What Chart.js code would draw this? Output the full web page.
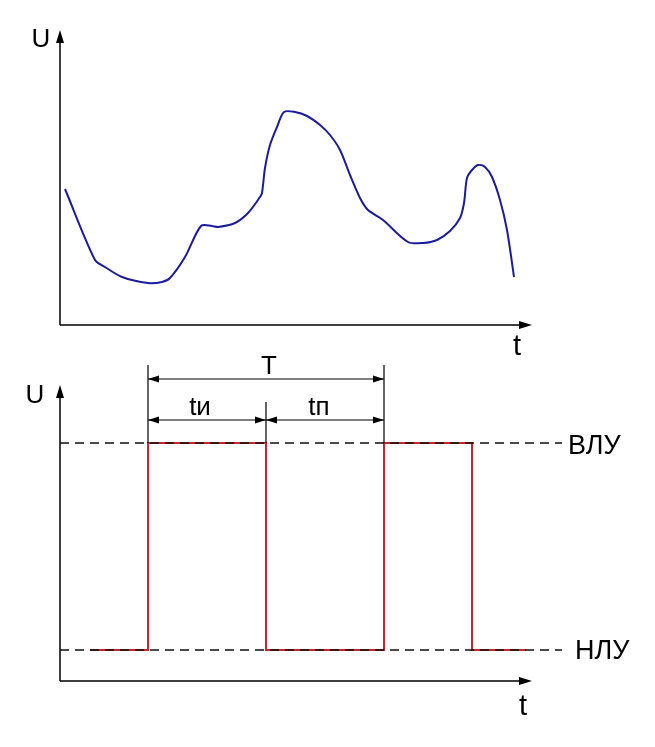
<!DOCTYPE html>
<html lang="ru">
<head>
<meta charset="UTF-8">
<title>Входной сигнал и импульсы</title>
<script src="https://cdn.jsdelivr.net/npm/chart.js"></script>
<style>
    body { margin: 0; background: #fff; }
    .box { position: absolute; left: 0; width: 655px; }
    #top { top: 0; height: 375px; }
    #bottom { top: 350px; height: 397px; }
</style>
</head>
<body>
<div class="box" id="top"><canvas id="signalChart"></canvas></div>
<div class="box" id="bottom"><canvas id="pulseChart"></canvas></div>
<script>
    // верхний график: входной сигнал
    const curveT = [5, 35, 45, 62, 88, 102, 110, 125, 141, 152, 158, 175, 188, 200, 202, 205, 210, 217, 224, 235,
                    247, 260, 270, 280, 290, 300, 308, 323, 348, 363, 377, 390, 400, 404, 407, 412, 418, 425, 432, 440, 447, 454];
    const curveU = [136, 65, 58, 48, 42, 43, 47, 68, 99, 99, 98, 102, 112, 128, 132, 157, 180, 198, 213, 213,
                    209, 200, 190, 175, 150, 127, 115, 105, 83, 82, 85, 94, 107, 122, 147, 155, 160, 158, 148, 125, 95, 48];

    // нижний график: прямоугольные импульсы
    const pulseT = [30, 88, 88, 206, 206, 324, 324, 412, 412, 466];
    const pulseU = [31, 31, 238, 238, 31, 31, 238, 238, 31, 31];
    const levelHigh = 238;  // ВЛУ
    const levelLow = 31;    // НЛУ
    const levelEnd = 502;

    const tMax = 472;
    const font = 'Arial, "Liberation Sans", sans-serif';

    const axesPlugin = {
        id: 'axes',
        afterDraw(chart, args, o) {
            const { ctx, chartArea: a } = chart;
            ctx.save();
            ctx.strokeStyle = '#000';
            ctx.fillStyle = '#000';
            ctx.lineWidth = 1.5;
            ctx.beginPath();
            ctx.moveTo(a.left, a.bottom);
            ctx.lineTo(a.left, a.top + 10);
            ctx.moveTo(a.left, a.bottom);
            ctx.lineTo(a.right - 10, a.bottom);
            ctx.stroke();
            ctx.beginPath();
            ctx.moveTo(a.left, a.top);
            ctx.lineTo(a.left - 4, a.top + 13);
            ctx.lineTo(a.left + 4, a.top + 13);
            ctx.closePath();
            ctx.moveTo(a.right, a.bottom);
            ctx.lineTo(a.right - 13, a.bottom - 4);
            ctx.lineTo(a.right - 13, a.bottom + 4);
            ctx.closePath();
            ctx.fill();
            ctx.textAlign = 'center';
            ctx.textBaseline = 'middle';
            ctx.font = '26px ' + font;
            ctx.fillText('U', a.left + o.uX, a.top + o.uY);
            ctx.font = '29px ' + font;
            ctx.fillText('t', a.right + o.tX, a.bottom + o.tY);
            ctx.restore();
        }
    };

    function arrowHead(ctx, x, y, dir) {
        ctx.beginPath();
        ctx.moveTo(x, y);
        ctx.lineTo(x - dir * 11, y - 3.5);
        ctx.lineTo(x - dir * 11, y + 3.5);
        ctx.closePath();
        ctx.fill();
    }

    function dimLine(ctx, x1, x2, y) {
        ctx.beginPath();
        ctx.moveTo(x1, y);
        ctx.lineTo(x2, y);
        ctx.stroke();
        arrowHead(ctx, x1, y, -1);
        arrowHead(ctx, x2, y, 1);
    }

    const dimsPlugin = {
        id: 'dims',
        afterDraw(chart) {
            const { ctx, scales: { x, y } } = chart;
            const x1 = x.getPixelForValue(pulseT[1]);
            const x2 = x.getPixelForValue(pulseT[3]);
            const x3 = x.getPixelForValue(pulseT[5]);
            const yHigh = y.getPixelForValue(levelHigh);
            const yLow = y.getPixelForValue(levelLow);
            const xEnd = x.getPixelForValue(levelEnd);
            const rowT = yHigh - 64;
            const rowI = yHigh - 23;

            ctx.save();
            ctx.strokeStyle = '#000';
            ctx.fillStyle = '#000';
            ctx.lineWidth = 1.2;
            ctx.beginPath();
            ctx.moveTo(x1, yHigh); ctx.lineTo(x1, yHigh - 78);
            ctx.moveTo(x3, yHigh); ctx.lineTo(x3, yHigh - 78);
            ctx.moveTo(x2, yHigh); ctx.lineTo(x2, yHigh - 41);
            ctx.stroke();
            dimLine(ctx, x1, x3, rowT);
            dimLine(ctx, x1, x2, rowI);
            dimLine(ctx, x2, x3, rowI);

            ctx.textAlign = 'center';
            ctx.textBaseline = 'middle';
            ctx.font = '26px ' + font;
            ctx.fillText('T', (x1 + x3) / 2 + 3, rowT - 12);
            ctx.fillText('tи', (x1 + x2) / 2 - 7, rowI - 12);
            ctx.fillText('tп', (x2 + x3) / 2 - 6, rowI - 12);

            ctx.textAlign = 'left';
            ctx.font = '27px ' + font;
            ctx.fillText('ВЛУ', xEnd + 6, yHigh + 4);
            ctx.fillText('НЛУ', xEnd + 13, yLow + 2);
            ctx.restore();
        }
    };

    function baseOptions(padding, uMax, axes) {
        return {
            responsive: true,
            maintainAspectRatio: false,
            animation: false,
            layout: { padding: padding },
            plugins: { legend: { display: false }, tooltip: { enabled: false }, axes: axes },
            elements: { point: { radius: 0 } },
            scales: {
                x: { type: 'linear', min: 0, max: tMax, display: false },
                y: { min: 0, max: uMax, display: false }
            }
        };
    }

    new Chart(document.getElementById('signalChart'), {
        type: 'line',
        data: {
            datasets: [{
                data: curveT.map((t, i) => ({ x: t, y: curveU[i] })),
                borderColor: '#1c1c9e',
                borderWidth: 2,
                tension: 0.3,
                fill: false
            }]
        },
        options: baseOptions({ left: 60, top: 30, right: 123, bottom: 50 }, 295,
            { uX: -19, uY: 10, tX: -15, tY: 22 }),
        plugins: [axesPlugin]
    });

    new Chart(document.getElementById('pulseChart'), {
        type: 'line',
        data: {
            datasets: [
                {
                    data: [{ x: 0, y: levelHigh }, { x: levelEnd, y: levelHigh }],
                    borderColor: '#111',
                    borderWidth: 1.4,
                    borderDash: [9, 6],
                    clip: false
                },
                {
                    data: [{ x: 0, y: levelLow }, { x: levelEnd, y: levelLow }],
                    borderColor: '#111',
                    borderWidth: 1.4,
                    borderDash: [9, 6],
                    clip: false
                },
                {
                    data: pulseT.map((t, i) => ({ x: t, y: pulseU[i] })),
                    borderColor: '#c8262c',
                    borderWidth: 2,
                    tension: 0,
                    fill: false
                }
            ]
        },
        options: baseOptions({ left: 60, top: 35, right: 123, bottom: 66 }, 296,
            { uX: -25, uY: 11, tX: -9, tY: 26 }),
        plugins: [axesPlugin, dimsPlugin]
    });
</script>
</body>
</html>
